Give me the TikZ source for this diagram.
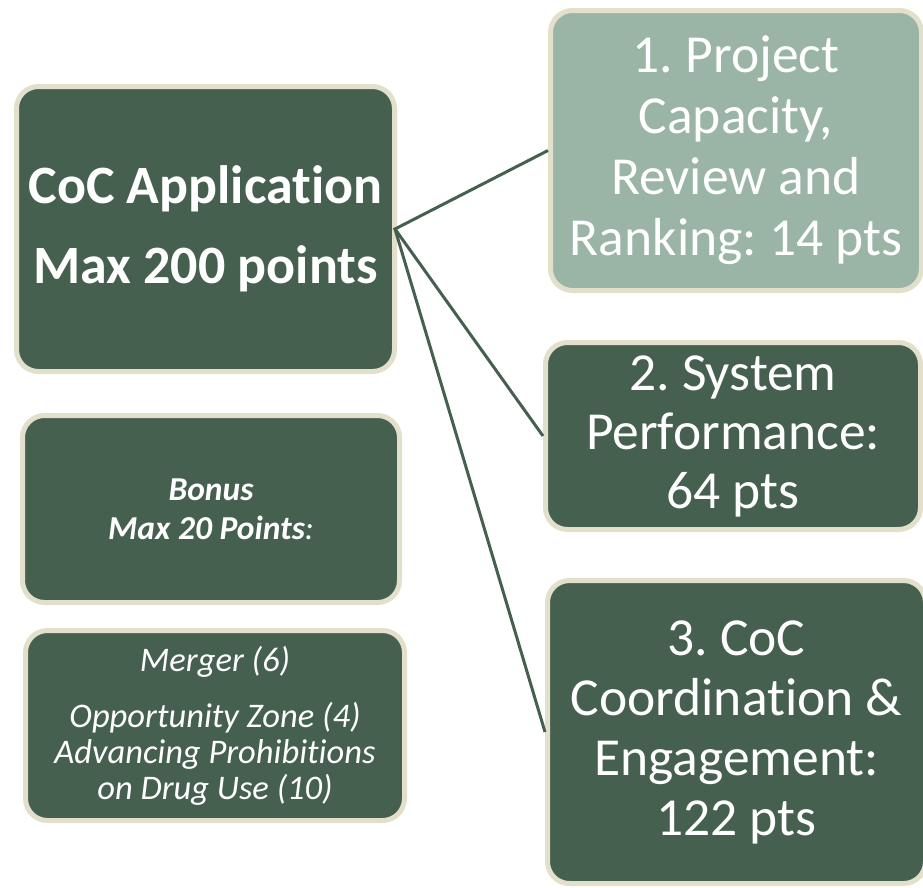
\documentclass[tikz,border=0pt]{standalone}
\usepackage{fontspec}
\setmainfont{Carlito}[Ligatures={NoCommon}]
\definecolor{dkgreen}{HTML}{46604F}
\definecolor{ltgreen}{HTML}{9AB4A6}
\definecolor{beige}{HTML}{E2DFCB}
\frenchspacing
\begin{document}
\begin{tikzpicture}[x=1pt,y=-1pt,
		box/.style={draw=beige,line width=5pt,rounded corners=22pt,fill=dkgreen,text=white,align=center,inner sep=0pt},
		link/.style={draw=dkgreen,line width=3pt}]
				\useasboundingbox (0,0) rectangle (923,887);
				\node[box,minimum width=378pt,minimum height=285pt,font=\fontsize{54}{80}\selectfont\bfseries] (app) at (205.5,229) {CoC Application\\Max 200 points};
				\node[box,fill=ltgreen,minimum width=371pt,minimum height=280pt,font=\fontsize{53.5}{61}\selectfont] (proj) at (736,150.5) {1. Project\\Capacity,\\Review and\\Ranking: 14 pts};
				\node[box,minimum width=375pt,minimum height=187pt,font=\fontsize{53.5}{59}\selectfont] (perf) at (733,436) {2. System\\Performance:\\64 pts};
				\node[box,minimum width=378pt,minimum height=303pt,font=\fontsize{53.5}{60}\selectfont] (coord) at (736.5,732) {3. CoC\\Coordination \&\\Engagement:\\122 pts};
				\node[box,minimum width=377pt,minimum height=187pt,font=\fontsize{33.5}{39}\selectfont\itshape] (bonus) at (211,509) {\textbf{Bonus}\\\textbf{Max 20 Points}:};
				\node[box,minimum width=379pt,minimum height=190pt,font=\fontsize{34.5}{36}\selectfont\itshape] (merge) at (215,725.5) {Merger (6)\\[20pt]Opportunity Zone (4)\\Advancing Prohibitions\\on Drug Use (10)};
				\coordinate (hub) at ([xshift=-2pt]app.east);
				\draw[link] (proj.west) -- (hub) -- (perf.west);
				\draw[link] (hub) -- (coord.west);
		\end{tikzpicture}
\end{document}
